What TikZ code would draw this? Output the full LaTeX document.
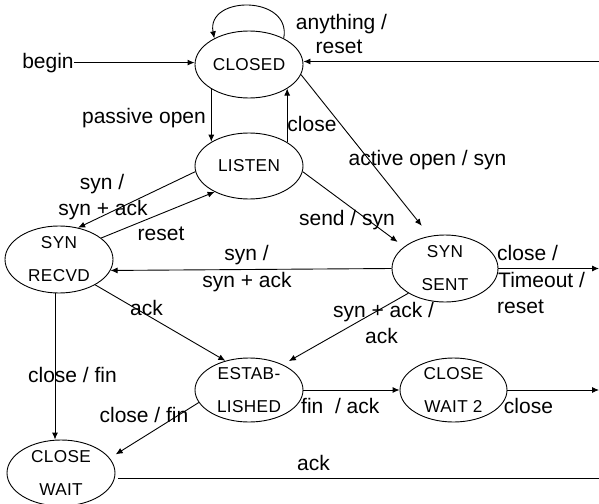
\documentclass[tikz,border=0pt]{standalone}
\usepackage{fontspec}
\setmainfont{Liberation Sans}
\newfontfamily\stfont[LetterSpace=2]{Liberation Sans}
\usetikzlibrary{shapes.geometric,arrows.meta}
\begin{document}
\begin{tikzpicture}[x=1pt,y=-1pt,
  st/.style={draw,ellipse,line width=0.9pt,inner sep=0pt,minimum width=108pt,minimum height=66pt,align=center,font=\stfont\fontsize{17.2}{33}\selectfont},
  lbl/.style={inner sep=0pt,anchor=base,font=\fontsize{21}{25}\selectfont},
  lblw/.style={lbl,anchor=base west},
  arr/.style={line width=0.9pt,-{Latex[length=7pt,width=6pt]}},
  ln/.style={line width=0.9pt}]
\fill[white] (0,0) rectangle (599,503);
\useasboundingbox (0,0) rectangle (599,503);

% states
\node[st,minimum height=67pt] (closed) at (249,64.5) {CLOSED};
\node[st] (listen) at (249,166) {LISTEN};
\node[st,minimum height=67pt] (synrecvd) at (59,259.5) {SYN\\RECVD};
\node[st,minimum width=106pt,minimum height=67pt] (synsent) at (445,268.5) {SYN\\SENT};
\node[st,minimum height=64pt] (estab) at (249,390) {ESTAB-\\LISHED};
\node[st,minimum width=107pt,minimum height=64pt] (cw2) at (453.5,390) {CLOSE\\WAIT 2};
\node[st] (cw) at (61,473) {CLOSE\\WAIT};

% labels
\node[lbl] (lbegin) at (48,68) {begin};
\node[lbl] (lany1) at (341.5,30) {anything /};
\node[lbl] (lany2) at (339,53) {reset};
\node[lbl] (lpass) at (144,123.5) {passive open};
\node[lbl] (lclose1) at (312,131) {close};
\node[lbl] (lact) at (427.5,165) {active open / syn};
\node[lbl] (lsend) at (347,225) {send / syn};
\node[lbl] (lsyn1a) at (102,189) {syn /};
\node[lbl] (lsyn1b) at (103,215) {syn + ack};
\node[lbl] (lreset) at (161,240) {reset};
\node[lbl] (lsyn2a) at (246.5,260) {syn /};
\node[lbl] (lsyn2b) at (247,287) {syn + ack};
\node[lblw] (lto1) at (497,260) {close /};
\node[lblw] (lto2) at (498,287) {Timeout /};
\node[lblw] (lto3) at (497,313) {reset};
\node[lbl] (lsa1) at (383.5,317) {syn + ack /};
\node[lbl] (lsa2) at (381.5,343) {ack};
\node[lbl] (lack1) at (146.5,315) {ack};
\node[lbl] (lcf1) at (72.5,382) {close / fin};
\node[lbl] (lcf2) at (144,422) {close / fin};
\node[lblw] (lfin) at (301,413) {fin\ \ / ack};
\node[lbl] (lclose2) at (528.5,413) {close};
\node[lbl] (lack2) at (313.5,470) {ack};

% connectors
\draw[arr] (lbegin.east) -- (lbegin.east -| closed.west);
\draw[arr] (closed.37) .. controls (292,-5) and (206,-5) .. (closed.143);
\coordinate (rin) at (599,61.5);
\draw[arr] (rin) -- (rin -| closed.east);
\draw[arr] (closed.213) -- (closed.213 |- listen.147);
\draw[arr] (listen.32) -- (listen.32 |- closed.328);
\draw[arr,shorten >=13pt] (closed.349) -- (synsent.115);
\draw[arr,shorten >=8pt] (listen.354) -- (synsent.152);
\draw[arr] (listen.186) -- (synrecvd.59);
\draw[arr] (synrecvd.27) -- (listen.217);
\draw[arr] (synsent.west) -- (synrecvd.348);
\coordinate (rout1) at (599,268.5);
\draw[arr] (synsent.east) -- (rout1);
\draw[arr] (synrecvd.325) -- (estab.129);
\draw[arr,shorten >=7pt] (synsent.214) -- (estab.37);
\draw[arr] ([xshift=-4pt]synrecvd.south) -- ([xshift=-6pt]cw.north);
\draw[arr,shorten >=7pt] (estab.194) -- (cw.17);
\draw[arr] (estab.east) -- (cw2.west);
\coordinate (rout2) at (599,390);
\draw[arr] (cw2.east) -- (rout2);
\coordinate (ackR) at (599,478);
\coordinate (cwR) at ([xshift=3pt]cw.east);
\draw[ln] (cwR |- ackR) -- (ackR);
\end{tikzpicture}
\end{document}
